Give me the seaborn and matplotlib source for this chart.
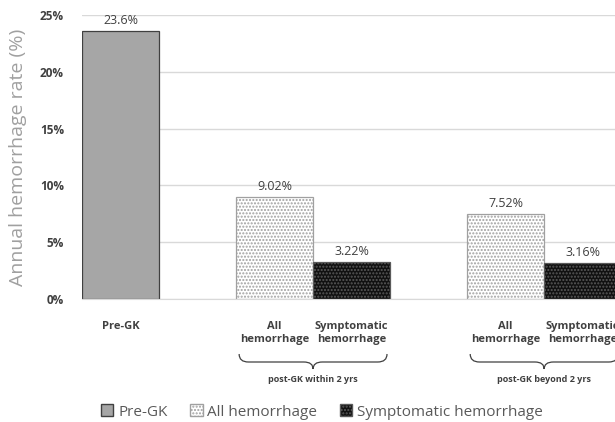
import numpy as np
import pandas as pd
import matplotlib.pyplot as plt
import seaborn as sns
from matplotlib.patches import Patch, PathPatch
from matplotlib.path import Path
import matplotlib.transforms as mtransforms

# bar data (slots 1 and 4 are spacers)
slots = [0, 2, 3, 5, 6]
series = ["Pre-GK", "All hemorrhage", "Symptomatic hemorrhage", "All hemorrhage", "Symptomatic hemorrhage"]
rates = [23.6, 9.02, 3.22, 7.52, 3.16]
value_labels = ["23.6%", "9.02%", "3.22%", "7.52%", "3.16%"]
tick_labels = ["Pre-GK", "All\nhemorrhage", "Symptomatic\nhemorrhage", "All\nhemorrhage", "Symptomatic\nhemorrhage"]
groups = ["post-GK within 2 yrs", "post-GK beyond 2 yrs"]
group_slots = [(2, 3), (5, 6)]

styles = {
    "Pre-GK": dict(fc="#a6a6a6", ec="#404040", hatch=None),
    "All hemorrhage": dict(fc="white", ec="#a0a0a0", hatch="....."),
    "Symptomatic hemorrhage": dict(fc="#111111", ec="#5a5a5a", hatch="....."),
}

sns.set_style("white")
plt.rcParams["font.family"] = ["Open Sans", "DejaVu Sans"]

df = pd.DataFrame({"slot": slots, "series": series, "rate": rates})

fig = plt.figure(figsize=(6.15, 4.22), dpi=100)
ax = fig.add_axes([82 / 615, 1 - 299 / 422, 1 - 82 / 615, (299 - 15) / 422])

sns.barplot(data=df, x="slot", y="rate", hue="series", native_scale=True,
            dodge=False, width=1.0, legend=False, ax=ax)

for bar, s in zip(sorted(ax.patches, key=lambda p: p.get_x()), series):
    st = styles[s]
    bar.set_facecolor(st["fc"])
    bar.set_edgecolor(st["ec"])
    bar.set_linewidth(0.9)
    if st["hatch"]:
        bar.set_hatch(st["hatch"])

for x, r, lab in zip(slots, rates, value_labels):
    ax.text(x, r + 0.35, lab, ha="center", va="bottom", fontsize=9, color="#404040")

ax.set_xlim(-0.5, 6.42)
ax.set_ylim(0, 25)
ax.set_yticks(np.arange(0, 26, 5))
ax.set_yticklabels([f"{v}%" for v in range(0, 26, 5)], fontsize=8.5, fontweight="bold", color="#404040")
ax.yaxis.grid(True, color="#d9d9d9", linewidth=1)
ax.set_axisbelow(True)
ax.set_xticks(slots)
ax.set_xticklabels(tick_labels, fontsize=8, fontweight="bold", color="#404040", linespacing=1.25)
ax.tick_params(axis="x", length=0, pad=16)
ax.tick_params(axis="y", length=0, pad=13)
for sp in ["left", "right", "top"]:
    ax.spines[sp].set_visible(False)
ax.spines["bottom"].set_color("#d9d9d9")
ax.set_xlabel("")
ax.set_ylabel("Annual hemorrhage rate (%)", fontsize=14, color="#a0a0a0", labelpad=9)

# curly braces under groups
trans = mtransforms.blended_transform_factory(ax.transData, ax.transAxes)
h = 284
y_top = -(354 - 299) / h
ym = -(362 - 299) / h
y_tip = -(369 - 299) / h
for (a, b), g in zip(group_slots, groups):
    x0, x1 = a - 0.46, b + 0.46
    xm = (x0 + x1) / 2
    d = 0.12
    verts = [(x0, y_top), (x0, ym), (x0 + d, ym), (xm - d, ym), (xm, ym), (xm, y_tip),
             (xm, y_tip), (xm, ym), (xm + d, ym), (x1 - d, ym), (x1, ym), (x1, y_top)]
    codes = [Path.MOVETO, Path.CURVE3, Path.CURVE3, Path.LINETO, Path.CURVE3, Path.CURVE3,
             Path.MOVETO, Path.CURVE3, Path.CURVE3, Path.LINETO, Path.CURVE3, Path.CURVE3]
    ax.add_patch(PathPatch(Path(verts, codes), transform=trans, fill=False,
                           ec="#404040", lw=0.9, clip_on=False))
    ax.text(xm, -(379 - 299) / h, g, transform=trans, ha="center", va="center",
            fontsize=6.5, fontweight="bold", color="#404040")

handles = [Patch(facecolor=styles[k]["fc"], edgecolor=styles[k]["ec"],
                 hatch=styles[k]["hatch"], label=k) for k in styles]
fig.legend(handles=handles, loc="center", bbox_to_anchor=(322 / 615, 1 - 412 / 422),
           ncol=3, frameon=False, fontsize=11, labelcolor="#595959",
           handlelength=0.8, handleheight=0.8, handletextpad=0.3, columnspacing=1.5)

plt.savefig("out.png", dpi=100)
